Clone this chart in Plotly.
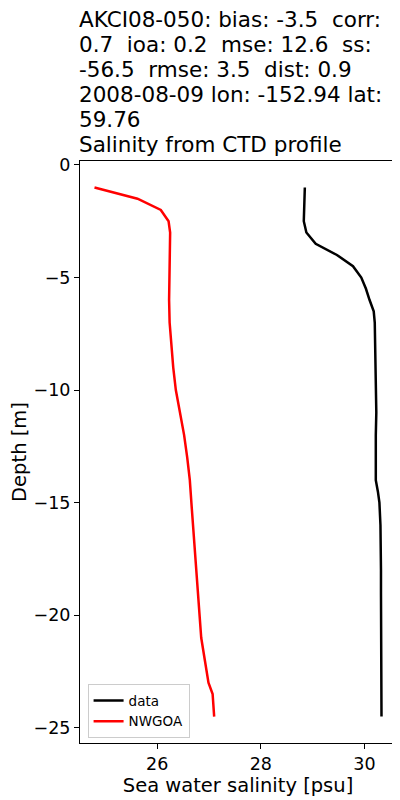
import plotly.graph_objects as go

# Observed CTD profile (data)
data_depth = [-1, -1.5, -2, -2.5, -3, -3.5, -4, -4.5, -5, -5.5, -6, -6.5, -7, -8, -9, -10,
              -11, -12, -13, -14, -14.5, -15, -16, -17, -18, -19, -20, -21, -22, -23, -24, -24.5]
data_sal = [28.85, 28.84, 28.83, 28.83, 28.88, 29.06, 29.47, 29.78, 29.94, 30.03, 30.10, 30.18,
            30.20, 30.21, 30.22, 30.22, 30.23, 30.22, 30.22, 30.22, 30.26, 30.29, 30.31, 30.32,
            30.32, 30.32, 30.32, 30.32, 30.32, 30.32, 30.33, 30.33]

# Model profile (NWGOA)
model_depth = [-1, -1.5, -2, -2.5, -3, -4, -5, -6, -7, -8, -9, -10, -11, -12, -13, -14, -15,
               -16, -17, -18, -19, -20, -21, -22, -23, -23.5, -24, -24.5]
model_sal = [24.79, 25.62, 26.07, 26.22, 26.25, 26.24, 26.23, 26.23, 26.24, 26.27, 26.31, 26.36,
             26.44, 26.52, 26.58, 26.63, 26.66, 26.69, 26.72, 26.75, 26.78, 26.81, 26.85, 26.92,
             26.99, 27.07, 27.09, 27.10]

x_ticks = [26, 28, 30]
y_ticks = [0, -5, -10, -15, -20, -25]

title_lines = [
    "AKCI08-050: bias: -3.5  corr:",
    "0.7  ioa: 0.2  mse: 12.6  ss:",
    "-56.5  rmse: 3.5  dist: 0.9",
    "2008-08-09 lon: -152.94 lat:",
    "59.76",
    "Salinity from CTD profile",
]

FONT = "DejaVu Sans"
# the page body adds an 8px offset; the figure is sized to fill the rest
OFF = 8

fig = go.Figure()
fig.add_trace(go.Scatter(x=data_sal, y=data_depth, mode="lines", name="data",
                         line=dict(color="black", width=2.5)))
fig.add_trace(go.Scatter(x=model_sal, y=model_depth, mode="lines", name="NWGOA",
                         line=dict(color="red", width=2.5)))

axis_common = dict(showgrid=False, zeroline=False, showline=True, linecolor="black",
                   linewidth=1, mirror=True, ticks="outside", ticklen=5, tickwidth=1,
                   tickcolor="black", automargin=False,
                   tickfont=dict(family=FONT, size=17.5, color="black"))

fig.update_xaxes(range=[24.51, 30.61], tickvals=x_ticks, ticktext=[str(v) for v in x_ticks],
                 title=dict(text="Sea water salinity [psu]", font=dict(family=FONT, size=19.5, color="black"),
                            standoff=5),
                 **axis_common)
fig.update_yaxes(range=[-25.675, 0.175], tickvals=y_ticks,
                 ticktext=[("\u2212" + str(-v)) if v < 0 else str(v) for v in y_ticks],
                 title=dict(text="Depth [m]", font=dict(family=FONT, size=19.5, color="black"),
                            standoff=12),
                 **axis_common)

n = len(title_lines)
for k, line in enumerate(title_lines):
    fig.add_annotation(text=line.replace("  ", "\u00a0\u00a0"), xref="paper", yref="paper",
                       x=0, y=1, xanchor="left", yanchor="bottom", align="left",
                       showarrow=False, xshift=-3, yshift=1.7 + (n - 1 - k) * 25,
                       font=dict(family=FONT, size=21.5, color="black"))

fig.update_layout(
    width=400 - OFF, height=800 - OFF,
    margin=dict(l=80 - OFF, r=4, t=161 - OFF, b=57, autoexpand=False),
    paper_bgcolor="white", plot_bgcolor="white",
    showlegend=True,
    legend=dict(x=0.024, y=0.008, xanchor="left", yanchor="bottom",
                bgcolor="rgba(255,255,255,0.8)", bordercolor="#cccccc", borderwidth=1,
                font=dict(family=FONT, size=13.5, color="black")),
    font=dict(family=FONT, color="black"),
)

fig.write_html("out.html")
